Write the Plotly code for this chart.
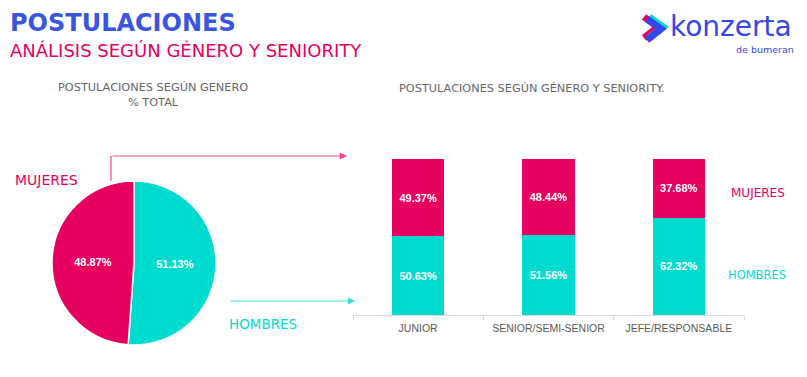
import plotly.graph_objects as go

W, H = 807, 377
PINK = "#E6005F"
TEAL = "#00DBD0"
BLUE = "#3A56DF"
LOGO_BLUE = "#3447E8"
GRAY = "#666666"

# ---- data ----
pie_labels = ["HOMBRES", "MUJERES"]
pie_values = [51.13, 48.87]

categories = ["JUNIOR", "SENIOR/SEMI-SENIOR", "JEFE/RESPONSABLE"]
hombres = [50.63, 51.56, 62.32]
mujeres = [49.37, 48.44, 37.68]


def px(x):
    return x / W


def py(y):
    return 1 - y / H


fig = go.Figure()

fig.add_trace(go.Pie(
    labels=pie_labels, values=pie_values, sort=False, direction="clockwise",
    rotation=0, marker=dict(colors=[TEAL, PINK], line=dict(color="white", width=1.5)),
    texttemplate="%{value:.2f}%", textposition="inside", insidetextorientation="horizontal",
    textfont=dict(family="Arial, Liberation Sans", size=11, color="white", weight="bold"),
    domain=dict(x=[px(52), px(216)], y=[py(345), py(181)]),
    showlegend=False, hoverinfo="label+percent",
))

bar_font = dict(family="Arial, Liberation Sans", size=11, color="white", weight="bold")
fig.add_trace(go.Bar(
    x=categories, y=hombres, name="HOMBRES", marker=dict(color=TEAL, line=dict(width=0)),
    texttemplate="%{y:.2f}%", textposition="inside", insidetextanchor="middle",
    textangle=0, textfont=bar_font, showlegend=False,
))
fig.add_trace(go.Bar(
    x=categories, y=mujeres, name="MUJERES", marker=dict(color=PINK, line=dict(width=0)),
    texttemplate="%{y:.2f}%", textposition="inside", insidetextanchor="middle",
    textangle=0, textfont=bar_font, showlegend=False,
))

fig.update_layout(
    width=W, height=H, margin=dict(l=0, r=0, t=0, b=0),
    paper_bgcolor="white", plot_bgcolor="white",
    barmode="stack", bargap=0.6,
    xaxis=dict(domain=[px(353), px(744)], showline=True, linecolor="#d9d9d9", linewidth=1,
               ticks="outside", tickson="boundaries", ticklen=4, tickcolor="#d9d9d9",
               ticklabelstandoff=3,
               showgrid=False, tickfont=dict(family="Arial, Liberation Sans", size=10.5, color="#595959"),
               range=[-0.5, 2.5], fixedrange=True),
    yaxis=dict(domain=[py(315), py(159)], range=[0, 100], visible=False, fixedrange=True),
)

ann = []
def text(x, y, s, size, color, family="DejaVu Sans", xanchor="center", weight="normal"):
    ann.append(dict(x=px(x), y=py(y), xref="paper", yref="paper", text=s, showarrow=False,
                    xanchor=xanchor, yanchor="middle",
                    font=dict(family=family, size=size, color=color, weight=weight)))

text(8, 23, "POSTULACIONES", 24, BLUE, xanchor="left", weight="bold")
text(8, 50.5, "ANÁLISIS SEGÚN GÉNERO Y SENIORITY", 18, PINK, xanchor="left")
text(152.5, 95, "POSTULACIONES SEGÚN GENERO<br>% TOTAL", 11.3, GRAY)
text(532, 88, "POSTULACIONES SEGÚN GÉNERO Y SENIORITY.", 11.3, GRAY)
text(46, 180, "MUJERES", 14, PINK)
text(263, 324, "HOMBRES", 13.5, TEAL)
text(758, 193, "MUJERES", 12, PINK)
text(757, 275, "HOMBRES", 11.5, TEAL)
# logo
text(668, 26, "konzerta", 28, LOGO_BLUE, xanchor="left")
text(765, 50, "de bumeran", 9.5, LOGO_BLUE)

# arrows
ann.append(dict(x=px(347), y=py(156), xref="paper", yref="paper", ax=-236, ay=0, text="",
                showarrow=True, arrowhead=2, arrowsize=1.2, arrowwidth=1.2, arrowcolor="#F0478A"))
ann.append(dict(x=px(355), y=py(301), xref="paper", yref="paper", ax=-126, ay=0, text="",
                showarrow=True, arrowhead=2, arrowsize=1.2, arrowwidth=1.2, arrowcolor="#33E0D8"))
fig.update_layout(annotations=ann)

shapes = [
    dict(type="line", xref="paper", yref="paper", x0=px(111), y0=py(181), x1=px(111), y1=py(156),
         line=dict(color="#F0478A", width=1.2)),
]
def chevron(dx, dy, color):
    pts = [(647 + dx, 19 + dy), (661 + dx, 29 + dy), (647 + dx, 40 + dy)]
    path = "M {} {} L {} {} L {} {}".format(px(pts[0][0]), py(pts[0][1]), px(pts[1][0]), py(pts[1][1]),
                                            px(pts[2][0]), py(pts[2][1]))
    return dict(type="path", xref="paper", yref="paper", path=path,
                line=dict(color=color, width=7))
shapes.append(chevron(-3, -2, PINK))
shapes.append(chevron(2, -2, TEAL))
shapes.append(chevron(0, 0, LOGO_BLUE))
fig.update_layout(shapes=shapes)

fig.write_html("out.html", config={"displayModeBar": False},
               post_script="document.body.style.margin='0';document.body.style.overflow='hidden';")
